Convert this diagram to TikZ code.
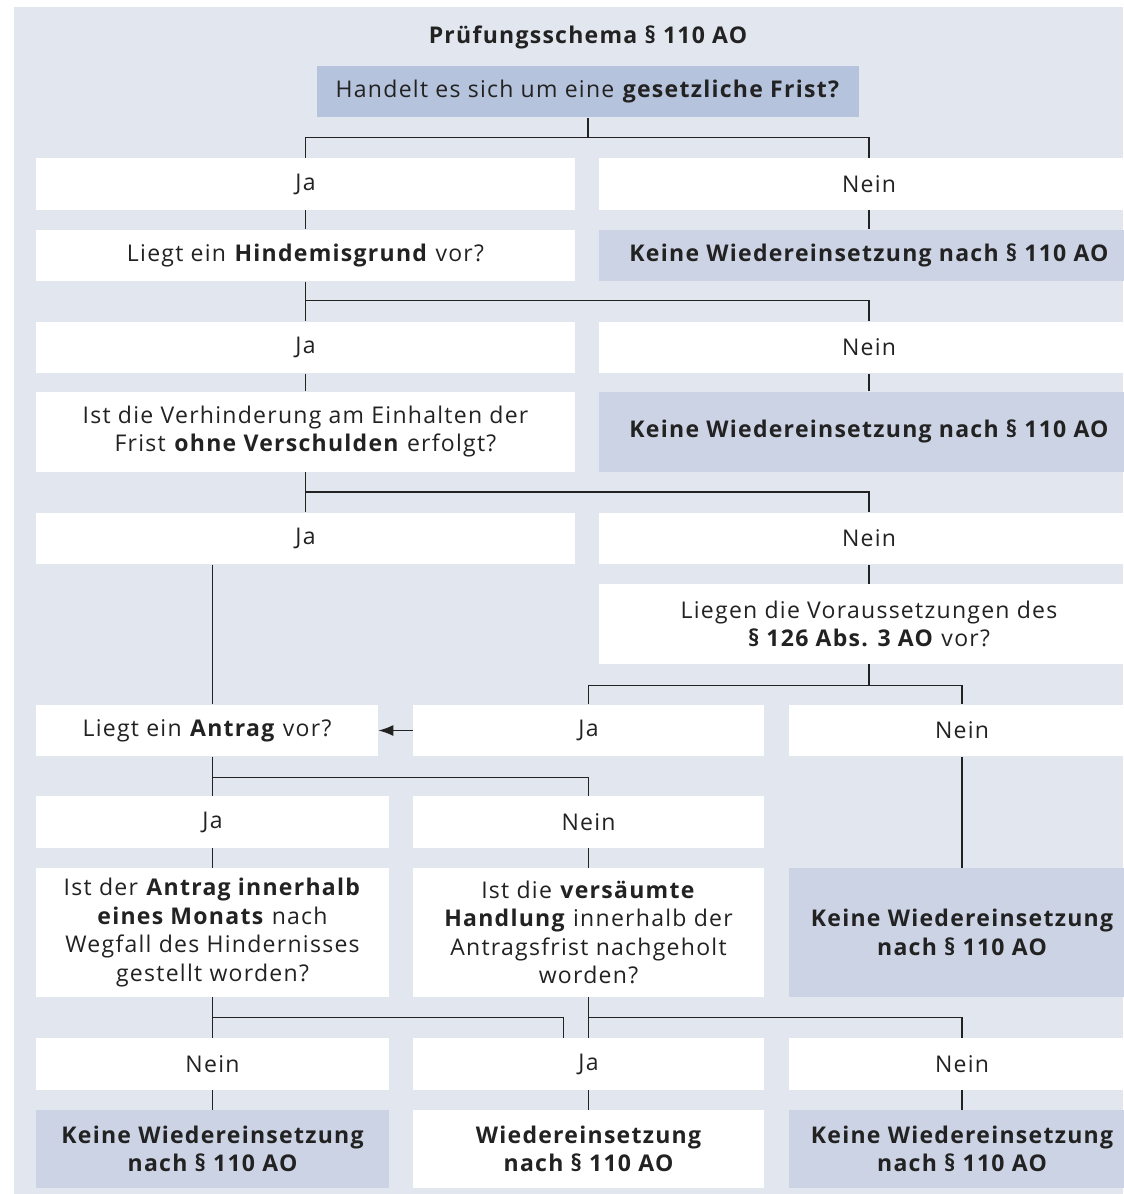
\documentclass[tikz,border=0pt]{standalone}
\usepackage{fontspec}
\setmainfont{Open Sans}[LetterSpace=5.5]
\usepackage{tikz}
\usetikzlibrary{arrows.meta, positioning}
\usepackage{xcolor}

\definecolor{panel}{HTML}{E2E6EF}
\definecolor{topfill}{HTML}{B6C3DD}
\definecolor{endfill}{HTML}{CCD3E4}
\definecolor{ink}{HTML}{222222}

\begin{document}
\begin{tikzpicture}[
    x=0.02cm, y=-0.02cm,
    font=\fontsize{13.1}{16.2}\selectfont,
    text=ink,
    box/.style={rectangle, inner sep=0pt, align=center, minimum height=1.03cm},
    ansbox/.style={box, fill=white},
    endbox/.style={box, fill=endfill, font=\fontsize{13.1}{16.2}\selectfont\bfseries},
    wide/.style={minimum width=10.8cm},
    colA/.style={minimum width=7.06cm},
    colB/.style={minimum width=7.02cm},
    colC/.style={minimum width=6.92cm},
    conn/.style={draw=ink, line width=0.9pt},
    arrow/.style={conn, -{Latex[length=3mm, width=2.2mm]}},
]
\useasboundingbox (0,0) rectangle (1123,1194);
\fill[panel] (14,7) rectangle (1123,1194);

% Title and first question
\node[font=\fontsize{13.1}{16.2}\selectfont\bfseries] (title) at (588,37) {Prüfungsschema § 110 AO};
\node[box, fill=topfill, minimum width=10.84cm] (q1) at (588,91.5) {Handelt es sich um eine \textbf{gesetzliche Frist?}};

% Left column
\node[ansbox, wide] (ja1) at (305.5,184) {Ja};
\node[ansbox, wide] (q2) at (305.5,255.5) {Liegt ein \textbf{Hindemisgrund} vor?};
\node[ansbox, wide] (ja2) at (305.5,347.5) {Ja};
\node[ansbox, wide, minimum height=1.6cm] (q3) at (305.5,431.5) {Ist die Verhinderung am Einhalten der\\Frist \textbf{ohne Verschulden} erfolgt?};
\node[ansbox, wide] (ja3) at (305.5,538.5) {Ja};

% Right column
\node[ansbox, wide] (nein1) at (869,184) {Nein};
\node[endbox, wide] (k1) at (869,255.5) {Keine Wiedereinsetzung nach § 110 AO};
\node[ansbox, wide] (nein2) at (869,347.5) {Nein};
\node[endbox, wide, minimum height=1.6cm] (k2) at (869,431.5) {Keine Wiedereinsetzung nach § 110 AO};
\node[ansbox, wide] (nein3) at (869,538.5) {Nein};
\node[ansbox, wide, minimum height=1.6cm] (q4) at (869,624) {Liegen die Voraussetzungen des\\\textbf{§ 126 Abs. 3 AO} vor?};

% Lower part
\node[ansbox, minimum width=6.84cm] (q5) at (207,730.5) {Liegt ein \textbf{Antrag} vor?};
\node[ansbox, colB] (ja4) at (588.5,730.5) {Ja};
\node[ansbox, colC] (nein4) at (962,730.5) {Nein};

\node[ansbox, colA] (ja5) at (212.5,822) {Ja};
\node[ansbox, colB] (nein5) at (588.5,822) {Nein};

\node[ansbox, colA, minimum height=2.58cm] (q6) at (212.5,932.5) {Ist der \textbf{Antrag innerhalb}\\\textbf{eines Monats} nach\\Wegfall des Hindernisses\\gestellt worden?};
\node[ansbox, colB, minimum height=2.58cm] (q7) at (588.5,932.5) {Ist die \textbf{versäumte}\\\textbf{Handlung} innerhalb der\\Antragsfrist nachgeholt\\worden?};
\node[endbox, colC, minimum height=2.58cm] (k3) at (962,932.5) {Keine Wiedereinsetzung\\nach § 110 AO};

\node[ansbox, colA] (nein6) at (212.5,1064) {Nein};
\node[ansbox, colB] (ja6) at (588.5,1064) {Ja};
\node[ansbox, colC] (nein7) at (962,1064) {Nein};

\node[endbox, colA, minimum height=1.56cm] (k4) at (212.5,1149) {Keine Wiedereinsetzung\\nach § 110 AO};
\node[ansbox, colB, minimum height=1.56cm, font=\fontsize{13.1}{16.2}\selectfont\bfseries] (w) at (588.5,1149) {Wiedereinsetzung\\nach § 110 AO};
\node[endbox, colC, minimum height=1.56cm] (k5) at (962,1149) {Keine Wiedereinsetzung\\nach § 110 AO};

% Junctions
\path (q1.south) ++(0,20) coordinate (j1);
\path (q2.south) ++(0,19) coordinate (j2);
\path (q3.south) ++(0,20) coordinate (j3);
\path (q4.south) ++(0,21) coordinate (j4);
\path (q5.south -| ja5) ++(0,21) coordinate (j5);
\path (q6.south) ++(0,20) coordinate (j6);
\path (q7.south) ++(0,20) coordinate (j7);

% Connectors
\draw[conn] (q1.south) -- (j1);
\draw[conn] (ja1.north) |- (j1) -| (nein1.north);
\draw[conn] (ja1) -- (q2);
\draw[conn] (nein1) -- (k1);

\draw[conn] (q2) -- (ja2);
\draw[conn] (j2) -| (nein2.north);
\draw[conn] (ja2) -- (q3);
\draw[conn] (nein2) -- (k2);

\draw[conn] (q3) -- (ja3);
\draw[conn] (j3) -| (nein3.north);
\draw[conn] (nein3) -- (q4);

\draw[conn] (q4.south) -- (j4);
\draw[conn] (ja4.north) |- (j4) -| (nein4.north);
\draw[conn] (ja3.south -| ja5) -- (q5.north -| ja5);
\draw[arrow] (ja4.west) -- (q5.east);

\draw[conn] (q5.south -| ja5) -- (ja5.north);
\draw[conn] (j5) -| (nein5.north);
\draw[conn] (ja5) -- (q6);
\draw[conn] (nein5) -- (q7);
\draw[conn] (nein4) -- (k3);

\draw[conn] (q6) -- (nein6);
\draw[conn] (j6) -| ([xshift=-0.5cm]ja6.north);
\draw[conn] (q7) -- (ja6);
\draw[conn] (j7) -| (nein7.north);

\draw[conn] (nein6) -- (k4);
\draw[conn] (ja6) -- (w);
\draw[conn] (nein7) -- (k5);

\end{tikzpicture}
\end{document}
